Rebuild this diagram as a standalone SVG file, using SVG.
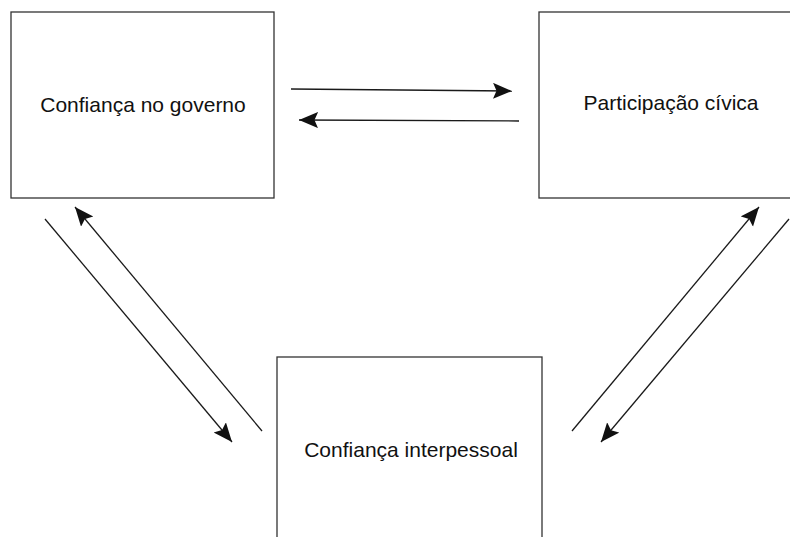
<svg xmlns="http://www.w3.org/2000/svg" width="790" height="537" viewBox="0 0 790 537">
<style>
.box{fill:#fff;stroke:#333;stroke-width:1.3}
.lbl{font-family:"Liberation Sans",Arial,sans-serif;font-size:21px;fill:#111;text-anchor:middle}
.conn{stroke:#1a1a1a;stroke-width:1.3;fill:none;marker-end:url(#ah)}
</style>
<defs>
<marker id="ah" markerUnits="userSpaceOnUse" markerWidth="22" markerHeight="18" refX="19" refY="8" orient="auto">
<path d="M0,0 L19,8 L0,16 L3.5,8 z" fill="#111"/>
</marker>
</defs>
<rect width="790" height="537" fill="#fff"/>
<g id="node-governo">
<rect class="box" x="11" y="12" width="263" height="186"/>
<text class="lbl" x="143" y="112">Confiança no governo</text>
</g>
<g id="node-participacao">
<rect class="box" x="539" y="12" width="260" height="186"/>
<text class="lbl" x="671" y="110">Participação cívica</text>
</g>
<g id="node-interpessoal">
<rect class="box" x="277" y="357" width="265" height="190"/>
<text class="lbl" x="411" y="457">Confiança interpessoal</text>
</g>
<g id="connectors">
<line class="conn" x1="291" y1="89" x2="512" y2="91"/>
<line class="conn" x1="519" y1="121" x2="299" y2="120"/>
<line class="conn" x1="45" y1="219" x2="232" y2="442"/>
<line class="conn" x1="262" y1="431" x2="75" y2="207"/>
<line class="conn" x1="572" y1="431" x2="759" y2="207"/>
<line class="conn" x1="789" y1="219" x2="601" y2="442"/>
</g>
</svg>
